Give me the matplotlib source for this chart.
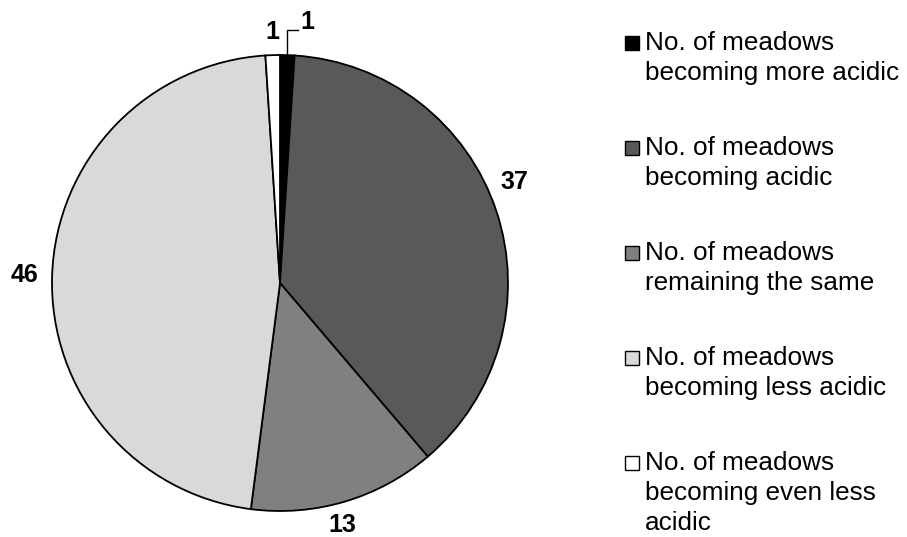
import numpy as np
import matplotlib
matplotlib.use("Agg")
import matplotlib.pyplot as plt
from matplotlib.patches import Rectangle

plt.rcParams['font.family'] = ['Liberation Sans', 'DejaVu Sans']

categories = [
    "No. of meadows\nbecoming more acidic",
    "No. of meadows\nbecoming acidic",
    "No. of meadows\nremaining the same",
    "No. of meadows\nbecoming less acidic",
    "No. of meadows\nbecoming even less\nacidic",
]
values = [1, 37, 13, 46, 1]
colors = ["#000000", "#595959", "#808080", "#d9d9d9", "#ffffff"]

W, H = 907, 537
fig = plt.figure(figsize=(W / 100, H / 100), dpi=100)
ax = fig.add_axes([0, 0, 1, 1])

cx, cy, R = 280, H - 283, 228
wedges, _ = ax.pie(values, colors=colors, startangle=90, counterclock=False,
                   center=(cx, cy), radius=R, frame=True,
                   wedgeprops=dict(edgecolor='black', linewidth=1.3))
ax.set_xlim(0, W)
ax.set_ylim(0, H)
ax.set_aspect('equal')
ax.axis('off')

label_fs = 18
angle_nudge = [0, 5.0, -2.0, 0, 0]   # degrees (counter-clockwise)
label_dist = [1.1, 1.12, 1.095, 1.12, 1.1]
for i, (w, v) in enumerate(zip(wedges, values)):
    mid = np.deg2rad((w.theta1 + w.theta2) / 2 + angle_nudge[i])
    if i == 0:
        # leader line label
        x0 = cx + R * np.cos(mid)
        y0 = cy + R * np.sin(mid)
        ytop = H - 30
        ax.plot([x0, x0, x0 + 11], [y0, ytop, ytop], color='black', lw=1.0,
                solid_joinstyle='miter')
        ax.text(x0 + 20, H - 22, str(v), fontsize=label_fs, fontweight='bold',
                ha='center', va='center')
    else:
        d = label_dist[i] * R
        ax.text(cx + d * np.cos(mid), cy + d * np.sin(mid), str(v),
                fontsize=label_fs, fontweight='bold', ha='center', va='center')

# legend
leg_fs = 18.8
sq = 14
for i, (lab, col) in enumerate(zip(categories, colors)):
    base = 50 + 105 * i
    ax.add_patch(Rectangle((625, H - base), sq, sq, facecolor=col,
                           edgecolor='black', linewidth=1.0))
    for j, line in enumerate(lab.split("\n")):
        ax.text(645, H - (base + 30 * j), line, fontsize=leg_fs,
                ha='left', va='baseline')

fig.savefig("out.png", dpi=100)
